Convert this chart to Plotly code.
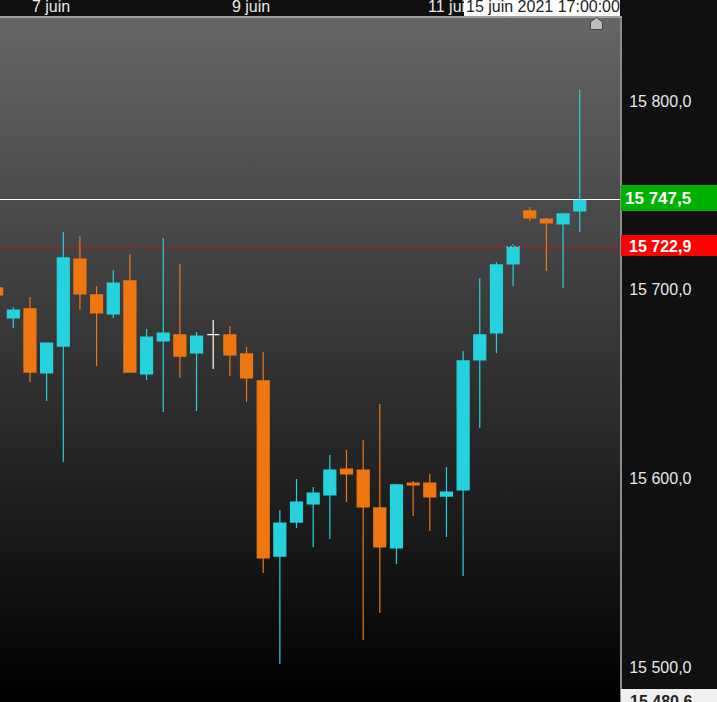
import plotly.graph_objects as go

# Candle positions and OHLC values (cyan = rising, orange = falling)
up_idx = [0, 2, 3, 6, 8, 9, 11, 16, 17, 18, 19, 23, 26, 27, 28, 29, 30, 33, 34]
up_open = [15685.0, 15655.8, 15670.1, 15687.1, 15655.3, 15672.8, 15666.4, 15558.8, 15576.8, 15586.4,
           15591.2, 15563.1, 15590.6, 15593.8, 15662.7, 15677.0, 15713.6, 15734.8, 15741.7]
up_high = [15690.6, 15671.7, 15730.5, 15710.4, 15679.1, 15727.4, 15677.5, 15583.2, 15599.6, 15595.4,
           15612.4, 15597.0, 15606.0, 15667.5, 15706.2, 15714.6, 15724.2, 15740.1, 15805.8]
up_low = [15679.7, 15641.0, 15608.6, 15685.0, 15652.1, 15635.2, 15635.7, 15501.6, 15573.7, 15563.6,
          15567.8, 15554.6, 15568.9, 15548.2, 15626.7, 15666.4, 15702.0, 15700.9, 15730.5]
up_close = [15689.2, 15671.7, 15716.8, 15703.5, 15674.9, 15677.0, 15675.4, 15576.3, 15587.4, 15592.2,
            15604.4, 15596.5, 15592.7, 15662.2, 15676.0, 15713.1, 15722.8, 15740.1, 15747.5]

down_idx = [-1, 1, 4, 5, 7, 10, 13, 14, 15, 20, 21, 22, 24, 25, 31, 32]
down_open = [15700.9, 15689.8, 15716.2, 15697.2, 15704.6, 15676.0, 15676.0, 15665.9, 15651.6, 15604.9,
             15604.4, 15584.3, 15597.5, 15597.5, 15741.7, 15737.4]
down_high = [15702.0, 15696.1, 15728.4, 15701.9, 15718.9, 15713.6, 15680.7, 15669.6, 15667.0, 15615.0,
             15620.3, 15639.4, 15598.6, 15602.3, 15743.8, 15738.0]
down_low = [15690.0, 15651.0, 15689.2, 15659.5, 15656.3, 15653.2, 15654.2, 15640.4, 15549.8, 15587.4,
            15514.3, 15528.6, 15580.0, 15572.1, 15736.4, 15709.9]
down_close = [15697.2, 15656.3, 15697.7, 15687.6, 15656.3, 15664.8, 15665.4, 15653.2, 15557.8, 15602.3,
              15584.8, 15563.6, 15596.5, 15590.1, 15738.0, 15735.3]

doji_idx = [12]
doji_open = [15676.2]
doji_high = [15683.9]
doji_low = [15657.9]
doji_close = [15676.2]

y_ticks = [15800, 15700, 15600, 15500]
y_labels = ["15 800,0", "15 700,0", "15 600,0", "15 500,0"]
x_ticks = [2.263, 14.268, 26.273]
x_labels = ["7 juin", "9 juin", "11 juin"]

x_range = [-0.798, 36.417]
y_range = [15481.44, 15843.96]

W, H = 717, 702
PL, PT = 620, 18
PH = H - PT
CYAN, ORANGE = "#26d2de", "#ee7711"
TXT = "#e8e8e8"
BG = "#101010"
FONT = "Liberation Sans"


def px(x):
    return x / PL


def py(y):
    return (H - y) / PH


def box(x0, y0, x1, y1, color):
    return dict(type="rect", xref="paper", yref="paper", x0=px(x0), x1=px(x1), y0=py(y1), y1=py(y0),
                fillcolor=color, line_width=0, layer="above")


def candle(idx, o, h, l, c, col):
    return go.Candlestick(x=idx, open=o, high=h, low=l, close=c, whiskerwidth=0, showlegend=False,
                          xaxis="x2", yaxis="y2",
                          increasing=dict(line=dict(color=col, width=1.2), fillcolor=col),
                          decreasing=dict(line=dict(color=col, width=1.2), fillcolor=col))


fig = go.Figure()
fig.add_trace(go.Scatter(
    x=[x_range[0], x_range[1], x_range[1], x_range[0], x_range[0]],
    y=[y_range[0], y_range[0], y_range[1], y_range[1], y_range[0]],
    mode="lines", line=dict(width=0), fill="toself", hoverinfo="skip", showlegend=False,
    fillgradient=dict(type="vertical", colorscale=[[0, "#000000"], [1, "#666666"]]),
))
fig.add_trace(candle(up_idx, up_open, up_high, up_low, up_close, CYAN))
fig.add_trace(candle(down_idx, down_open, down_high, down_low, down_close, ORANGE))
fig.add_trace(candle(doji_idx, doji_open, doji_high, doji_low, doji_close, "#ffffff"))

shapes = [
    dict(type="line", xref="paper", yref="paper", x0=0, x1=1, y0=py(199.5), y1=py(199.5),
         line=dict(color="#ffffff", width=1), layer="above"),
    dict(type="line", xref="paper", yref="paper", x0=0, x1=1, y0=py(246.5), y1=py(246.5),
         line=dict(color="#ff0000", width=1, dash="2px,2px"), layer="above"),
    box(621, 185, 717, 211, "#00b000"),
    box(621, 235, 717, 256, "#ff0000"),
    box(621, 689, 717, 702, "#f0f0f0"),
    box(464, 0, 620, 16, "#ffffff"),
    dict(type="path", xref="paper", yref="paper",
         path="M %f,%f L %f,%f L %f,%f L %f,%f L %f,%f Z" % (
             px(590.5), py(29.5), px(590.5), py(22), px(596.5), py(17.5), px(602.5), py(22), px(602.5), py(29.5)),
         fillcolor="#bbbbbb", line=dict(color="#444444", width=1), layer="above"),
]


def note(x, y, text, size, color, bold=False):
    return dict(xref="paper", yref="paper", x=px(x), y=py(y), text="<b>%s</b>" % text if bold else text,
                xanchor="left", yanchor="middle", showarrow=False, borderpad=0,
                font=dict(family=FONT, size=size, color=color))


annotations = [
    note(624, 198, "15 747,5", 17, "#ffffff", True),
    note(628, 246, "15 722,9", 16, "#ffffff", True),
    note(629, 701, "15 480,6", 16, "#222222", True),
    note(465, 7, "15 juin 2021 17:00:00", 16, "#222222"),
]

fig.update_layout(
    width=W, height=H, margin=dict(l=0, r=W - PL, t=PT, b=0, pad=0),
    paper_bgcolor=BG, plot_bgcolor="#000000", showlegend=False, boxgap=0.28, boxgroupgap=0,
    font=dict(family=FONT, size=16, color=TXT),
    shapes=shapes, annotations=annotations,
    xaxis=dict(range=x_range, visible=False, showgrid=False, zeroline=False, automargin=False),
    yaxis=dict(range=y_range, visible=False, showgrid=False, zeroline=False, automargin=False),
    xaxis2=dict(overlaying="x", range=x_range, side="top", tickmode="array", tickvals=x_ticks, ticktext=x_labels,
                showgrid=False, zeroline=False, ticks="", showline=True, linecolor="#a0a0a0", linewidth=2,
                ticklabelstandoff=-2, rangeslider=dict(visible=False), automargin=False,
                tickfont=dict(family=FONT, size=16, color=TXT)),
    yaxis2=dict(overlaying="y", range=y_range, side="right", tickmode="array", tickvals=y_ticks, ticktext=y_labels,
                showgrid=False, zeroline=False, ticks="", showline=True, linecolor="#8c8c8c", linewidth=2,
                ticklabelstandoff=4, automargin=False, tickfont=dict(family=FONT, size=16, color=TXT)),
)

fig.write_html("out.html", config=dict(displayModeBar=False),
               post_script="document.body.style.margin='0';document.documentElement.style.overflow='hidden';")
